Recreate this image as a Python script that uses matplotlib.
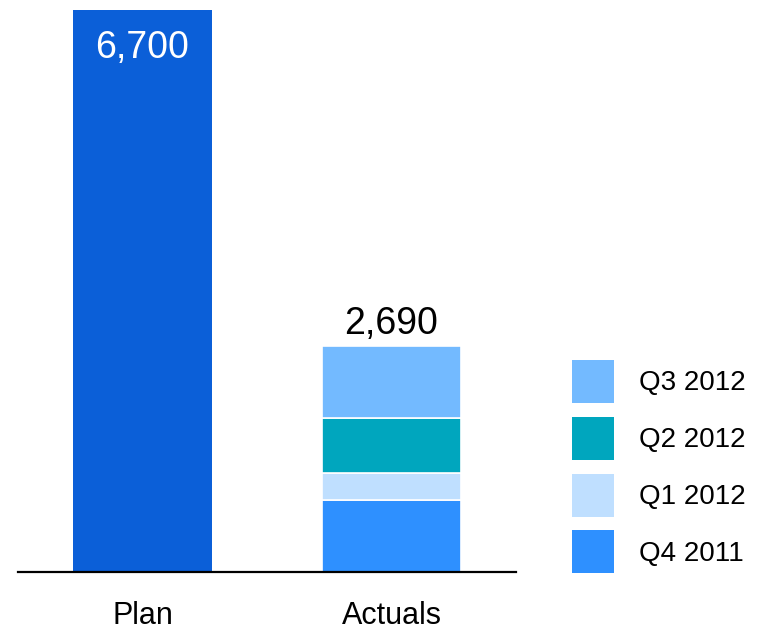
import matplotlib.pyplot as plt
import numpy as np
from matplotlib.patches import Patch

plt.rcParams['font.family'] = ['Liberation Sans', 'DejaVu Sans']

# Data
categories = ['Plan', 'Actuals']
plan_value = 6700
actual_total = 2690
quarters = ['Q4 2011', 'Q1 2012', 'Q2 2012', 'Q3 2012']
quarter_values = [860, 325, 655, 850]

plan_color = '#0B5FD8'
quarter_colors = ['#2E90FF', '#BFDFFF', '#00A6BE', '#73BAFF']

fig = plt.figure(figsize=(7.62, 6.3), dpi=100)
ax = fig.add_axes([18 / 762, 58 / 630, 498 / 762, 562 / 630])

x = np.arange(len(categories))
width = 0.557

ax.bar(x[0], plan_value, width, color=plan_color, linewidth=0)

bottom = 0
for q, v, c in zip(quarters, quarter_values, quarter_colors):
    ax.bar(x[1], v, width, bottom=bottom, color=c, edgecolor='white', linewidth=1.2)
    bottom += v

ax.text(x[0], plan_value - 455, f'{plan_value:,}', ha='center', va='center',
        color='white', fontsize=27)
ax.text(x[1], bottom + 50, f'{actual_total:,}', ha='center', va='bottom',
        color='black', fontsize=27)

ax.set_xlim(-0.5, 1.5)
ax.set_ylim(0, plan_value)
ax.set_xticks(x)
ax.set_xticklabels(categories, fontsize=22)
ax.tick_params(axis='x', length=0, pad=21)
ax.set_yticks([])
for s in ['left', 'right', 'top']:
    ax.spines[s].set_visible(False)
ax.spines['bottom'].set_linewidth(1.6)
ax.spines['bottom'].set_color('black')

handles = [Patch(facecolor=c, edgecolor='none') for c in quarter_colors][::-1]
labels = quarters[::-1]
fig.legend(handles, labels, loc='upper left',
           bbox_to_anchor=(572 / 762, 1 - 360 / 630),
           frameon=False, fontsize=20, handlelength=1.5, handleheight=2.0,
           labelspacing=0.5, handletextpad=0.9, borderpad=0, borderaxespad=0)

plt.savefig('out.png', dpi=100, facecolor='white')
plt.close()
